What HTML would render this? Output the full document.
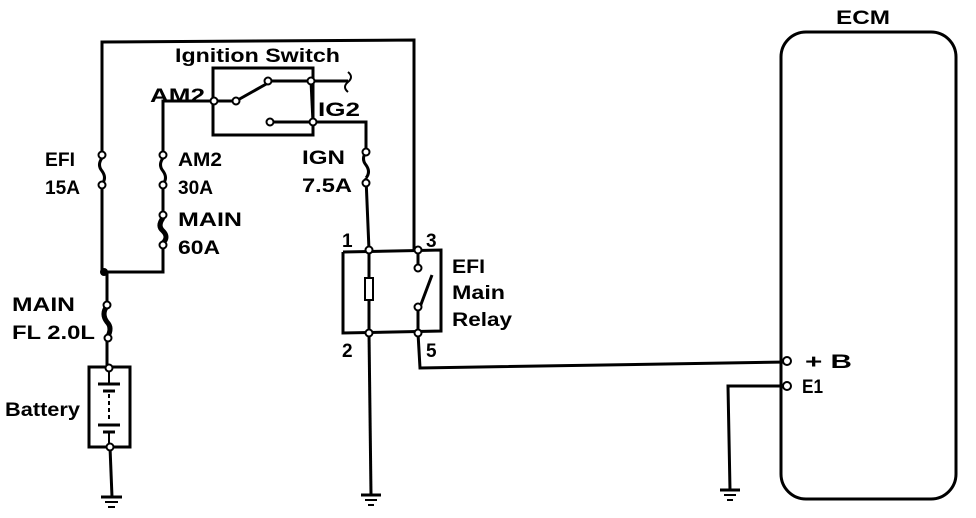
<!DOCTYPE html>
<html><head><style>body{margin:0;background:#fff}svg{display:block}text{font-family:"Liberation Sans",sans-serif;font-weight:bold;fill:#000}</style></head><body>
<svg width="976" height="518" viewBox="0 0 976 518" xmlns="http://www.w3.org/2000/svg">
<g fill="none" stroke="#000" stroke-width="3">
<polyline points="102,155 102,42 414,40 414,250"/>
<line x1="102" y1="185" x2="102" y2="272"/>
<polyline points="102,272 163,272 163,245"/>
<line x1="163" y1="215" x2="163" y2="185"/>
<polyline points="163,155 163,101 214,101"/>
<polyline points="104,272 107,272 107,305"/>
<path d="M102,158 q-5,7 0,13 q5,7 0,13"/>
<path d="M163,158 q-5,7 0,13 q5,7 0,13"/>
<path d="M163,218 q-6,8 0,13 q6,6 0,12" stroke-width="5"/>
<path d="M366,152 q-5,7 0,13 q5,7 0,13"/>
<path d="M107,306 q-6,8 0,16 q6,6 0,16" stroke-width="5"/>
<rect x="213" y="68" width="100" height="67"/>
<line x1="214" y1="101" x2="236" y2="101"/>
<line x1="236" y1="101" x2="268" y2="83"/>
<line x1="268" y1="81" x2="311" y2="81"/>
<line x1="311" y1="81" x2="313" y2="122"/>
<line x1="270" y1="122" x2="313" y2="122"/>
<polyline points="311,81 348,81"/>
<path d="M348,72 q6,5 0,10 q-6,5 0,10" stroke-width="2"/>
<polyline points="313,122 366,122 366,152"/>
<line x1="366" y1="178" x2="369" y2="250"/>
<polyline points="343,252 441,250 441,331 343,333 343,252"/>
<line x1="369" y1="250" x2="369" y2="333"/>
<line x1="418" y1="250" x2="418" y2="268"/>
<line x1="420" y1="307" x2="432" y2="275"/>
<line x1="418" y1="307" x2="418" y2="333"/>
<rect x="365" y="278" width="8" height="22" fill="#fff" stroke-width="2"/>
<line x1="369" y1="333" x2="371" y2="495"/>
<polyline points="418,333 420,368 787,362"/>
<line x1="107" y1="338" x2="107" y2="367"/>
<rect x="89" y="367" width="41" height="80"/>
<line x1="110" y1="447" x2="112" y2="497"/>
<rect x="781" y="32" width="175" height="467" rx="25"/>
<polyline points="787,386 728,386 730,490"/>
</g>
<g stroke="#000">
<line x1="98" y1="384" x2="120" y2="384" stroke-width="3"/>
<line x1="103" y1="391" x2="115" y2="391" stroke-width="3"/>
<line x1="109" y1="394" x2="109" y2="420" stroke-width="2" stroke-dasharray="4,3"/>
<line x1="98" y1="425" x2="120" y2="425" stroke-width="3"/>
<line x1="103" y1="432" x2="115" y2="432" stroke-width="3"/>
<line x1="109" y1="372" x2="109" y2="384" stroke-width="2"/>
<line x1="109" y1="432" x2="109" y2="445" stroke-width="2"/>
</g>
<g stroke="#000" stroke-width="2">
<line x1="101" y1="497" x2="122" y2="497" stroke-width="3"/><line x1="105" y1="502" x2="118" y2="502"/><line x1="108" y1="507" x2="115" y2="507"/>
<line x1="361" y1="495" x2="381" y2="495" stroke-width="3"/><line x1="365" y1="500" x2="377" y2="500"/><line x1="368" y1="505" x2="374" y2="505"/>
<line x1="720" y1="490" x2="740" y2="490" stroke-width="3"/><line x1="724" y1="495" x2="736" y2="495"/><line x1="727" y1="500" x2="733" y2="500"/>
</g>
<g fill="#fff" stroke="#000" stroke-width="2">
<circle cx="102" cy="155" r="3.5"/><circle cx="102" cy="185" r="3.5"/>
<circle cx="163" cy="155" r="3.5"/><circle cx="163" cy="185" r="3.5"/>
<circle cx="163" cy="215" r="3.5"/><circle cx="163" cy="245" r="3.5"/>
<circle cx="107" cy="305" r="3.5"/><circle cx="108" cy="338" r="3.5"/>
<circle cx="109" cy="368" r="3.5"/><circle cx="110" cy="447" r="3.5"/>
<circle cx="214" cy="101" r="3.5"/><circle cx="236" cy="101" r="3.5"/><circle cx="268" cy="81" r="3.5"/>
<circle cx="311" cy="81" r="3.5"/><circle cx="270" cy="122" r="3.5"/><circle cx="313" cy="122" r="3.5"/>
<circle cx="366" cy="152" r="3.5"/><circle cx="366" cy="183" r="3.5"/>
<circle cx="369" cy="250" r="3.5"/><circle cx="418" cy="250" r="3.5"/>
<circle cx="418" cy="268" r="3.5"/><circle cx="418" cy="307" r="3.5"/>
<circle cx="369" cy="333" r="3.5"/><circle cx="418" cy="333" r="3.5"/>
<circle cx="787" cy="361" r="4"/><circle cx="787" cy="386" r="4"/>
</g>
<circle cx="104" cy="272" r="4" fill="#000"/>
<g font-size="19" lengthAdjust="spacingAndGlyphs">
<text x="175" y="62" textLength="165" lengthAdjust="spacingAndGlyphs">Ignition Switch</text>
<text x="150" y="102" textLength="55" lengthAdjust="spacingAndGlyphs">AM2</text>
<text x="318" y="116" textLength="42" lengthAdjust="spacingAndGlyphs">IG2</text>
<text x="45" y="166" textLength="30" lengthAdjust="spacingAndGlyphs">EFI</text>
<text x="45" y="194" textLength="35" lengthAdjust="spacingAndGlyphs">15A</text>
<text x="178" y="166" textLength="44" lengthAdjust="spacingAndGlyphs">AM2</text>
<text x="178" y="194" textLength="35" lengthAdjust="spacingAndGlyphs">30A</text>
<text x="178" y="226" textLength="64" lengthAdjust="spacingAndGlyphs">MAIN</text>
<text x="178" y="254" textLength="42" lengthAdjust="spacingAndGlyphs">60A</text>
<text x="302" y="164" textLength="43" lengthAdjust="spacingAndGlyphs">IGN</text>
<text x="302" y="192" textLength="50" lengthAdjust="spacingAndGlyphs">7.5A</text>
<text x="342" y="247">1</text>
<text x="426" y="247">3</text>
<text x="342" y="357">2</text>
<text x="426" y="357">5</text>
<text x="452" y="273" textLength="33" lengthAdjust="spacingAndGlyphs">EFI</text>
<text x="452" y="299" textLength="53" lengthAdjust="spacingAndGlyphs">Main</text>
<text x="452" y="326" textLength="60" lengthAdjust="spacingAndGlyphs">Relay</text>
<text x="12" y="311" textLength="63" lengthAdjust="spacingAndGlyphs">MAIN</text>
<text x="12" y="339" textLength="83" lengthAdjust="spacingAndGlyphs">FL 2.0L</text>
<text x="5" y="416" textLength="75" lengthAdjust="spacingAndGlyphs">Battery</text>
<text x="836" y="24" textLength="54" lengthAdjust="spacingAndGlyphs">ECM</text>
<text x="805" y="368" textLength="47" lengthAdjust="spacingAndGlyphs">+ B</text>
<text x="802" y="393" textLength="21" lengthAdjust="spacingAndGlyphs">E1</text>
</g>
</svg>
</body></html>
